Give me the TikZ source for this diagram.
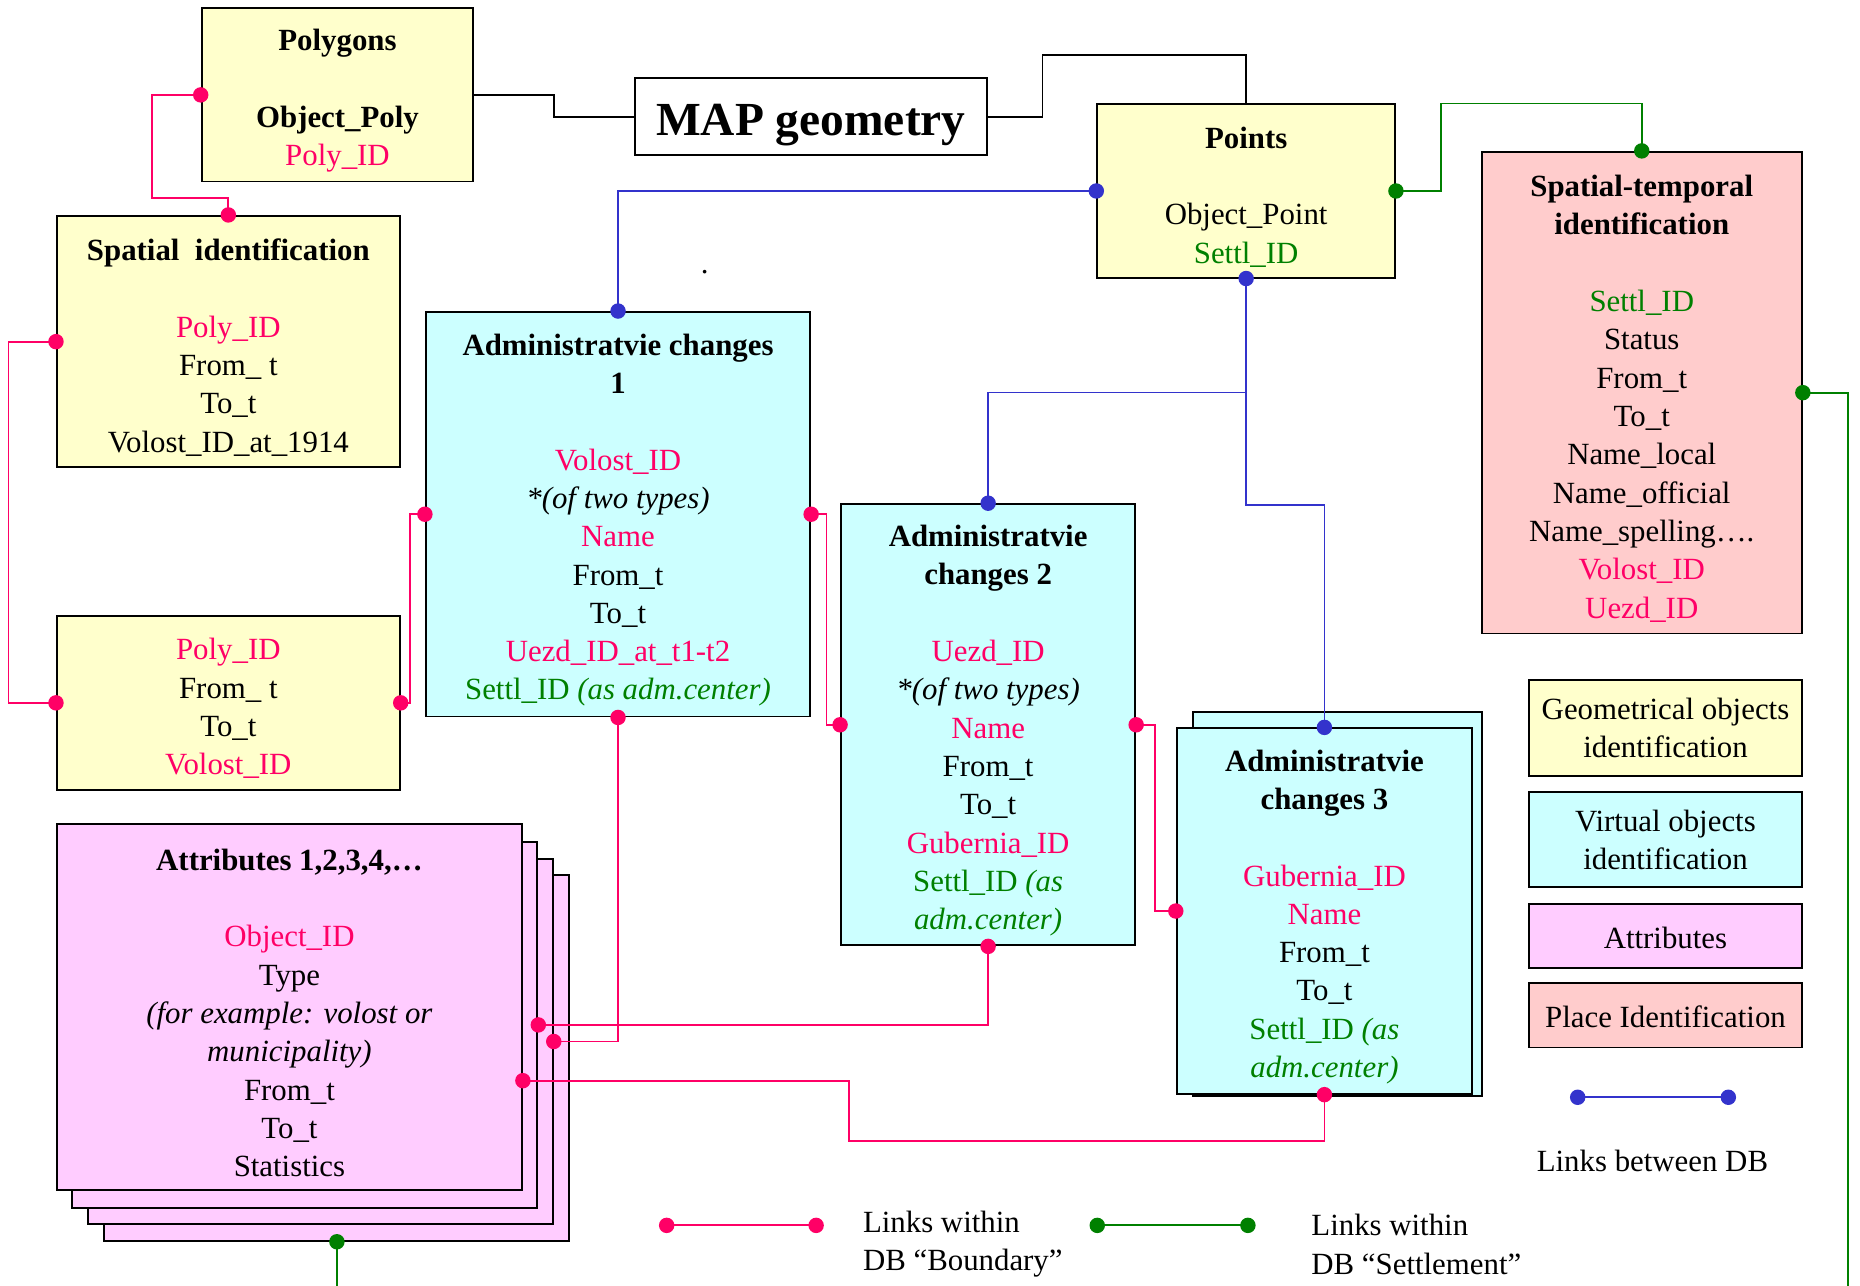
\documentclass[tikz,border=0pt]{standalone}
\usepackage{fontspec}
\setmainfont{Liberation Serif}
\usetikzlibrary{arrows.meta}

\definecolor{dbpink}{RGB}{255,0,102}
\definecolor{dbgreen}{RGB}{0,128,0}
\definecolor{dbblue}{RGB}{51,51,204}
\definecolor{geofill}{RGB}{255,255,204}
\definecolor{virtfill}{RGB}{204,255,255}
\definecolor{attrfill}{RGB}{255,204,255}
\definecolor{placefill}{RGB}{255,204,204}

\newcommand\fs{\fontsize{26}{32.3}\selectfont}
\newcommand\pk[1]{\textcolor{dbpink}{#1}}
\newcommand\gr[1]{\textcolor{dbgreen}{#1}}
\newcommand\tp{\rule{0pt}{28pt}}

\tikzset{
  box/.style={draw,line width=1.6pt,inner sep=0pt,align=center,font=\fs},
  geo/.style={box,fill=geofill},
  virt/.style={box,fill=virtfill},
  attrb/.style={box,fill=attrfill},
  place/.style={box,fill=placefill},
  wire/.style={line width=1.5pt},
  dots/.style={wire,{Circle[length=13pt]}-{Circle[length=13pt]},shorten <=-6.5pt,shorten >=-6.5pt},
  dotend/.style={wire,-{Circle[length=13pt]},shorten >=-6.5pt},
  dotstart/.style={wire,{Circle[length=13pt]}-,shorten <=-6.5pt}
}

\begin{document}
\begin{tikzpicture}[x=1pt,y=-1pt]
	\useasboundingbox (0,0) rectangle (1568,1084);

	% geometry
	\node[geo,minimum width=229pt,minimum height=146pt] (poly) at (284.5,80)
		{\tp\textbf{Polygons}\\[32.3pt]\textbf{Object\_Poly}\\\pk{Poly\_ID}};
	\node[box,fill=white,minimum width=297pt,minimum height=65pt,font=\fontsize{40}{48}\selectfont\bfseries] (map) at (683.5,98.5)
		{\rule{0pt}{40pt}MAP geometry};
	\node[geo,minimum width=251pt,minimum height=146pt] (pts) at (1050.5,161)
		{\tp\textbf{Points}\\[32.3pt]Object\_Point\\\gr{Settl\_ID}};
	\node[place,minimum width=270pt,minimum height=406pt] (stid) at (1384,331)
		{\tp\textbf{Spatial-temporal}\\\textbf{identification}\\[32.3pt]\gr{Settl\_ID}\\Status\\From\_t\\To\_t\\Name\_local\\Name\_official\\Name\_spelling….\\\pk{Volost\_ID}\\\pk{Uezd\_ID}};
	\node[geo,minimum width=289pt,minimum height=212pt] (spid) at (192.5,288)
		{\tp\textbf{Spatial~~identification}\\[32.3pt]\pk{Poly\_ID}\\From\_ t\\To\_t\\Volost\_ID\_at\_1914};
	\node[geo,minimum width=289pt,minimum height=147pt] (volp) at (192.5,592.5)
		{\tp\pk{Poly\_ID}\\From\_ t\\To\_t\\\pk{Volost\_ID}};

	% administrative changes
	\node[virt,minimum width=324pt,minimum height=341pt] (adm1) at (521,433.5)
		{\tp\textbf{Administratvie changes}\\\textbf{1}\\[32.3pt]\pk{Volost\_ID}\\\textit{*(of two types)}\\\pk{Name}\\From\_t\\To\_t\\\pk{Uezd\_ID\_at\_t1-t2}\\\gr{Settl\_ID \textit{(as adm.center)}}};
	\node[virt,minimum width=248pt,minimum height=372pt] (adm2) at (833,611)
		{\tp\textbf{Administratvie}\\\textbf{changes 2}\\[32.3pt]\pk{Uezd\_ID}\\\textit{*(of two types)}\\\pk{Name}\\From\_t\\To\_t\\\pk{Gubernia\_ID}\\\gr{Settl\_ID \textit{(as}}\\\gr{\textit{adm.center)}}};
	\node[virt,minimum width=243pt,minimum height=324pt] (adm3b) at (1127.5,762) {};
	\node[virt,minimum width=249pt,minimum height=308pt] (adm3) at (1116.5,768)
		{\tp\textbf{Administratvie}\\\textbf{changes 3}\\[32.3pt]\pk{Gubernia\_ID}\\\pk{Name}\\From\_t\\To\_t\\\gr{Settl\_ID \textit{(as}}\\\gr{\textit{adm.center)}}};

	% attributes
	\foreach \i/\dx/\dy in {4/40/43,3/26/29,2/13/15}
		\node[attrb,minimum width=392pt,minimum height=308pt] (att\i) at (244+\dx,849+\dy) {};
	\node[attrb,minimum width=392pt,minimum height=308pt] (attr) at (244,849)
		{\tp\textbf{Attributes 1,2,3,4,…}\\[32.3pt]\pk{Object\_ID}\\Type\\\textit{(for example: volost or}\\\textit{municipality)}\\From\_t\\To\_t\\Statistics};

	\node[font=\fs,inner sep=0pt] (spot) at (594,229) {.};

	% legend
	\node[geo,minimum width=230pt,minimum height=81pt] (lgeo) at (1404,613.5) {Geometrical objects\\identification};
	\node[virt,minimum width=230pt,minimum height=80pt] (lvirt) at (1404,708) {Virtual objects\\identification};
	\node[attrb,minimum width=230pt,minimum height=54pt] (lattr) at (1404,789) {\rule{0pt}{21pt}Attributes};
	\node[place,minimum width=230pt,minimum height=54pt] (lplace) at (1404,856) {\rule{0pt}{21pt}Place Identification};

	\coordinate (bl1) at (1330,925);
	\coordinate (bl2) at (1457,925);
	\node[font=\fs] (bltxt) at (1393,979) {Links between DB};
	\coordinate (pl1) at (562,1033);
	\coordinate (pl2) at (688,1033);
	\node[font=\fs,align=left,anchor=west] (pltxt) at (724,1049) {Links within\\DB “Boundary”};
	\coordinate (gl1) at (925,1033);
	\coordinate (gl2) at (1052,1033);
	\node[font=\fs,align=left,anchor=west] (gltxt) at (1102,1049) {Links within\\DB “Settlement”};

	\draw[dots,dbblue] (bl1) -- (bl2);
	\draw[dots,dbpink] (pl1) -- (pl2);
	\draw[dots,dbgreen] (gl1) -- (gl2);

	% links to the map
	\draw[wire] (poly.east) -- ++(67,0) |- (map.west);
	\draw[wire] (map.east) -- ++(46,0) |- ([yshift=41pt]pts.north) -- (pts.north);

	% links within DB Boundary
	\draw[dots,dbpink] (poly.west) -- ++(-41,0) |- ([yshift=14pt]spid.north) -- (spid.north);
	\draw[dots,dbpink] (spid.west) -- ++(-40,0) |- (volp.west);
	\draw[dots,dbpink] (volp.east) -- ++(8,0) |- (adm1.west);
	\draw[dots,dbpink] (adm1.east) -- ++(13,0) |- (adm2.west);
	\draw[dots,dbpink] (adm2.east) -- ++(16,0) |- (adm3.west);
	\draw[dots,dbpink] (adm1.south) |- (att3.east);
	\draw[dots,dbpink] (adm2.south) |- (att2.east);
	\coordinate (lowbend) at (716,962);
	\draw[dots,dbpink] (adm3.south) |- (lowbend) |- ([yshift=-62pt]attr.east);

	% links between DB
	\draw[dots,dbblue] (pts.west) -| (adm1.north);
	\draw[dots,dbblue] (pts.south) -- ++(0,96) -| (adm2.north);
	\draw[dotend,dbblue] (pts.south) -- ++(0,191) -| (adm3.north);

	% links within DB Settlement
	\draw[dots,dbgreen] (pts.east) -- ++(38,0) |- ([yshift=40pt]stid.north) -- (stid.north);
	\coordinate (sedge) at (1558,1084);
	\draw[dotstart,dbgreen] (stid.east) -| (sedge);
	\coordinate (aedge) at (284,1084);
	\draw[dotstart,dbgreen] (att4.south) -- (aedge);
\end{tikzpicture}
\end{document}
